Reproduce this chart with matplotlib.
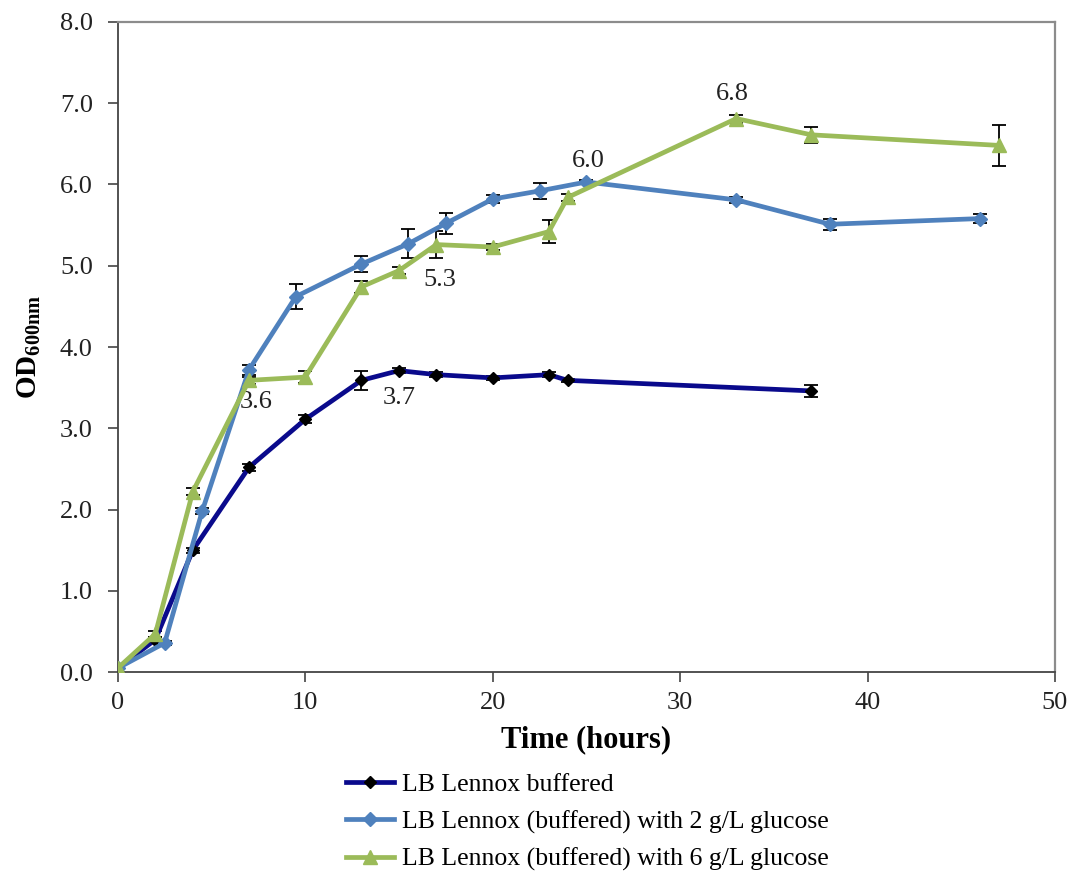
import matplotlib
matplotlib.use("Agg")
import matplotlib.pyplot as plt
from matplotlib.lines import Line2D
from matplotlib.ticker import MultipleLocator, FormatStrFormatter

plt.rcParams['font.family'] = ['Liberation Serif', 'DejaVu Serif']
plt.rcParams['mathtext.fontset'] = 'custom'
plt.rcParams['mathtext.rm'] = 'Liberation Serif'
plt.rcParams['mathtext.bf'] = 'Liberation Serif:bold'

# Data
t_buf = [0, 2, 4, 7, 10, 13, 15, 17, 20, 23, 24, 37]
od_buf = [0.05, 0.40, 1.50, 2.52, 3.11, 3.59, 3.71, 3.66, 3.62, 3.66, 3.59, 3.46]
err_buf = [0.0, 0.03, 0.03, 0.04, 0.05, 0.12, 0.03, 0.03, 0.02, 0.03, 0.02, 0.07]

t_g2 = [0, 2.5, 4.5, 7, 9.5, 13, 15.5, 17.5, 20, 22.5, 25, 33, 38, 46]
od_g2 = [0.05, 0.36, 1.98, 3.72, 4.62, 5.02, 5.27, 5.52, 5.82, 5.92, 6.03, 5.81, 5.51, 5.58]
err_g2 = [0.0, 0.03, 0.04, 0.06, 0.15, 0.10, 0.18, 0.13, 0.05, 0.10, 0.03, 0.04, 0.07, 0.06]

t_g6 = [0, 2, 4, 7, 10, 13, 15, 17, 20, 23, 24, 33, 37, 47]
od_g6 = [0.05, 0.47, 2.22, 3.59, 3.63, 4.74, 4.94, 5.26, 5.23, 5.42, 5.84, 6.81, 6.61, 6.48]
err_g6 = [0.0, 0.04, 0.04, 0.04, 0.07, 0.07, 0.04, 0.17, 0.04, 0.14, 0.04, 0.05, 0.10, 0.25]

labels = ["LB Lennox buffered",
          "LB Lennox (buffered) with 2 g/L glucose",
          "LB Lennox (buffered) with 6 g/L glucose"]

ann_text = ["3.6", "3.7", "5.3", "6.0", "6.8"]
ann_x = [7.4, 15.0, 17.2, 25.1, 32.8]
ann_y = [3.32, 3.37, 4.83, 6.29, 7.11]

fig = plt.figure(figsize=(10.71, 8.73), dpi=100)
ax = fig.add_axes([0.110, 0.230, 0.875, 0.745])

navy = '#0a0a8c'
blue = '#4f81bd'
green = '#9bbb59'

styles = [
    dict(color=navy, marker='D', ms=6.5, mfc='black', mec='black'),
    dict(color=blue, marker='D', ms=7.5, mfc=blue, mec=blue),
    dict(color=green, marker='^', ms=9.5, mfc=green, mec=green),
]
series = [(t_buf, od_buf, err_buf), (t_g2, od_g2, err_g2), (t_g6, od_g6, err_g6)]

handles = []
for (t, od, err), st, lab in zip(series, styles, labels):
    ax.errorbar(t, od, yerr=err, lw=3.4, ecolor='black', elinewidth=1.3, capsize=5,
                capthick=1.3, zorder=3, **st)
    handles.append(Line2D([], [], lw=3.4, label=lab, **st))

for s, x, y in zip(ann_text, ann_x, ann_y):
    ax.text(x, y, s, ha='center', va='center', fontsize=19, color='#222222')

ax.set_xlim(0, 50)
ax.set_ylim(0, 8.0)
ax.xaxis.set_major_locator(MultipleLocator(10))
ax.yaxis.set_major_locator(MultipleLocator(1.0))
ax.yaxis.set_major_formatter(FormatStrFormatter('%.1f'))
for sp in ['top', 'right']:
    ax.spines[sp].set_color('#8c8c8c')
    ax.spines[sp].set_linewidth(1.6)
for sp in ['left', 'bottom']:
    ax.spines[sp].set_color('#444444')
    ax.spines[sp].set_linewidth(1.3)
ax.tick_params(axis='both', direction='out', length=7, width=1.2, color='#444444',
               labelsize=19, labelcolor='#222222')
ax.tick_params(axis='y', pad=11)
ax.tick_params(axis='x', pad=7)

ax.set_xlabel('Time (hours)', fontsize=22, fontweight='bold', labelpad=8)
ax.set_ylabel(r'$\mathbf{OD_{600nm}}$', fontsize=21, labelpad=12)

fig.legend(handles=handles, loc='upper left', bbox_to_anchor=(0.313, 0.126),
           frameon=False, fontsize=18.5, handlelength=1.9, handletextpad=0.3,
           labelspacing=0.55, borderaxespad=0)

fig.savefig('out.png', dpi=100)
